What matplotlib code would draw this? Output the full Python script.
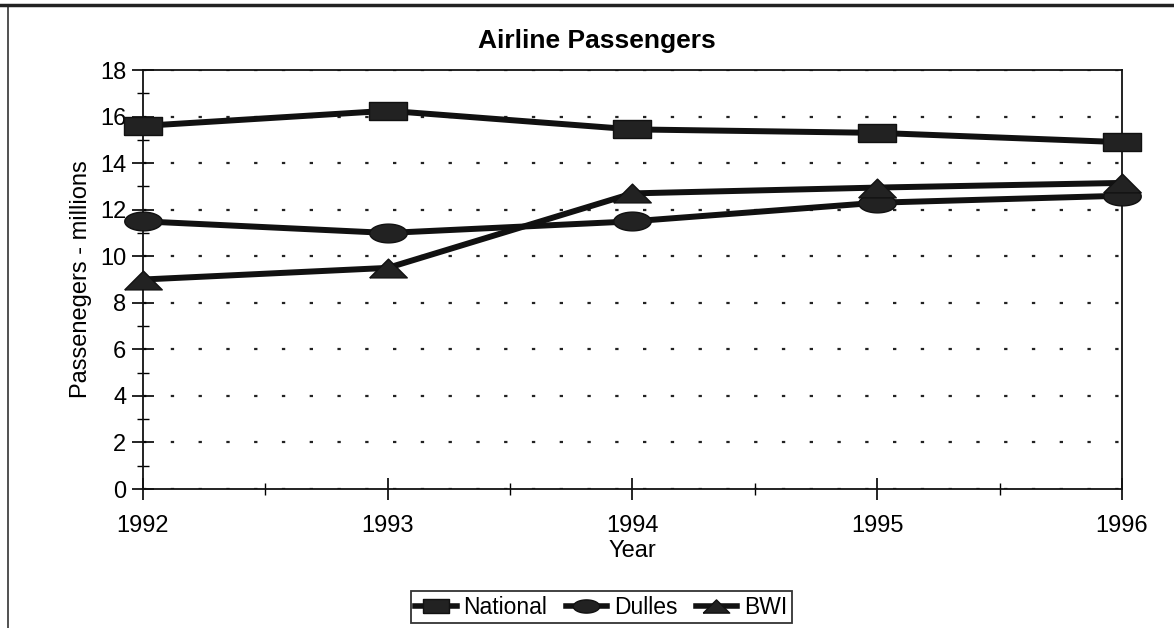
import matplotlib
matplotlib.use("Agg")
import matplotlib.pyplot as plt
import numpy as np
from matplotlib.lines import Line2D
from matplotlib.ticker import MultipleLocator

years = [1992, 1993, 1994, 1995, 1996]
national = [15.6, 16.25, 15.45, 15.3, 14.9]
dulles = [11.5, 11.0, 11.5, 12.3, 12.6]
bwi = [9.0, 9.5, 12.7, 12.95, 13.15]
series_names = ["National", "Dulles", "BWI"]

plt.rcParams["font.family"] = ["Liberation Sans", "DejaVu Sans"]

# wide, flat markers like the scanned original
rect_m = [(-1, -0.5), (1, -0.5), (1, 0.5), (-1, 0.5), (-1, -0.5)]
t = np.linspace(0, 2 * np.pi, 60)
ell_m = list(zip(np.cos(t), 0.5 * np.sin(t)))
tri_m = [(-1, -0.5), (1, -0.5), (0, 0.5), (-1, -0.5)]
markers = [rect_m, ell_m, tri_m]

fig = plt.figure(figsize=(11.74, 6.28), dpi=100)
ax = fig.add_axes([0.1218, 0.2213, 0.8339, 0.6672])

for vals, m in zip([national, dulles, bwi], markers):
    ax.plot(years, vals, color="#111111", lw=4.3, marker=m, markersize=27,
            markerfacecolor="#222222", markeredgecolor="#111111",
            solid_capstyle="butt", clip_on=False, zorder=3)

ax.set_xlim(1992, 1996)
ax.set_ylim(0, 18)
ax.yaxis.set_major_locator(MultipleLocator(2))
ax.yaxis.set_minor_locator(MultipleLocator(1))
ax.xaxis.set_major_locator(MultipleLocator(1))
ax.xaxis.set_minor_locator(MultipleLocator(0.5))
ax.tick_params(axis="both", which="major", direction="inout", length=16, width=1.2,
               labelsize=17, colors="black")
ax.tick_params(axis="both", which="minor", direction="inout", length=9, width=1.0)
ax.tick_params(axis="x", which="major", pad=11)
ax.tick_params(axis="y", which="major", pad=4)
ax.set_xticks(years)
ax.set_xticklabels([str(y) for y in years])
for s in ax.spines.values():
    s.set_linewidth(1.3)
    s.set_color("#111111")

ax.grid(axis="y", which="major", color="#222222", linestyle=(0, (1.5, 11)), linewidth=1.6)
ax.set_axisbelow(True)

ax.set_ylabel("Passenegers - millions", fontsize=17, labelpad=6)
ax.set_xlabel("Year", fontsize=17, labelpad=2)
fig.text(0.508, 0.934, "Airline Passengers", ha="center", va="center",
         fontsize=19, fontweight="bold")

handles = [Line2D([0], [0], color="#111111", lw=4, marker=m, markersize=19,
                  markerfacecolor="#222222", markeredgecolor="#111111")
           for m in markers]
leg = fig.legend(handles, series_names, loc="center", bbox_to_anchor=(0.512, 0.033),
                 ncol=3, fontsize=16.5, frameon=True, fancybox=False, handlelength=1.8,
                 handletextpad=0.3, columnspacing=0.8, borderpad=0.2)
leg.get_frame().set_edgecolor("black")
leg.get_frame().set_linewidth(1.3)

# page frame lines from the scan
fig.add_artist(Line2D([0.007, 0.007], [0.0, 0.99], color="#333333", lw=1.2))
fig.add_artist(Line2D([0.0, 1.0], [0.992, 0.992], color="#222222", lw=2.5))

fig.savefig("out.png", dpi=100)
